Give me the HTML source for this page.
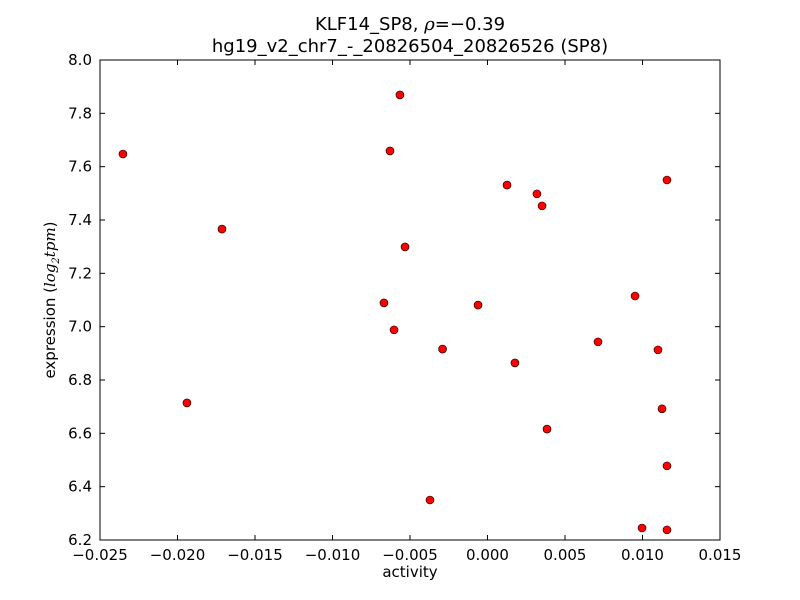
<!DOCTYPE html>
<html><head><meta charset="utf-8">
<style>body{margin:0;background:#fff}svg{display:block;font-family:"DejaVu Sans","Liberation Sans",sans-serif}</style>
</head><body>
<svg id="chart" width="800" height="600">
<rect width="800" height="600" fill="#fff"/>
<text x="410" y="30" text-anchor="middle" font-size="18">KLF14_SP8, <tspan font-family="DejaVu Serif" font-style="italic">ρ</tspan>=−0.39</text>
<text x="410" y="52" text-anchor="middle" font-size="18">hg19_v2_chr7_-_20826504_20826526 (SP8)</text>
<g id="ticks"></g>
<g id="points"></g>
<rect x="100" y="60" width="620" height="480" fill="none" stroke="#000" stroke-width="1"/>
<text x="410" y="577" text-anchor="middle" font-size="15">activity</text>
<text transform="translate(55,300) rotate(-90)" text-anchor="middle" font-size="15">expression (<tspan font-family="DejaVu Serif" font-style="italic">log</tspan><tspan font-size="10" dy="4" font-family="DejaVu Serif" font-style="italic">2</tspan><tspan dy="-4" font-family="DejaVu Serif" font-style="italic">tpm</tspan>)</text>
</svg>
<script>
const xVals=[-0.02352,-0.00565,-0.00629,-0.01713,-0.00532,-0.00668,-0.00603,-0.01939,-0.00290,-0.00061,0.00126,0.00319,0.00352,0.00177,0.00384,-0.00371,0.00713,0.00952,0.01158,0.01100,0.01126,0.01158,0.00997,0.01158];
const yVals=[7.6475,7.869,7.659,7.366,7.299,7.089,6.988,6.714,6.916,7.081,7.531,7.498,7.453,6.864,6.616,6.35,6.943,7.115,7.55,6.913,6.692,6.478,6.245,6.238];
const xTicks=[-0.025,-0.020,-0.015,-0.010,-0.005,0.000,0.005,0.010,0.015];
const xTickLabels=["−0.025","−0.020","−0.015","−0.010","−0.005","0.000","0.005","0.010","0.015"];
const yTicks=[6.2,6.4,6.6,6.8,7.0,7.2,7.4,7.6,7.8,8.0];
const yTickLabels=["6.2","6.4","6.6","6.8","7.0","7.2","7.4","7.6","7.8","8.0"];
const X0=100,X1=720,Y0=540,Y1=60,xmin=-0.025,xmax=0.015,ymin=6.2,ymax=8.0;
const sx=v=>X0+(v-xmin)/(xmax-xmin)*(X1-X0);
const sy=v=>Y0-(v-ymin)/(ymax-ymin)*(Y0-Y1);
const NS="http://www.w3.org/2000/svg";
const tg=document.getElementById('ticks'),pg=document.getElementById('points');
function mk(tag,a,parent){const e=document.createElementNS(NS,tag);for(const k in a)e.setAttribute(k,a[k]);parent.appendChild(e);return e;}
xTicks.forEach((t,i)=>{const x=sx(t);
 let l=mk('line',{x1:x,x2:x,y1:Y0,y2:Y0-5,stroke:'#000'},tg);
 
 
 let l2=mk('line',{x1:x,x2:x,y1:Y1,y2:Y1+5,stroke:'#000'},tg);
 
 
 let tx=mk('text',{x:x,y:Y0+20,'text-anchor':'middle','font-size':15},tg);tx.textContent=xTickLabels[i];
 
 
});
yTicks.forEach((t,i)=>{const y=sy(t);
 let l=mk('line',{x1:X0,x2:X0+5,y1:y,y2:y,stroke:'#000'},tg);
 
 
 let l2=mk('line',{x1:X1,x2:X1-5,y1:y,y2:y,stroke:'#000'},tg);
 
 
 let tx=mk('text',{x:X0-8,y:y+5,'text-anchor':'end','font-size':15},tg);tx.textContent=yTickLabels[i];
 
 
});
xVals.forEach((v,i)=>{
 let c=mk('circle',{cx:sx(v),cy:sy(yVals[i]),r:4,fill:'#ff0000',stroke:'#000','stroke-width':0.6},pg);
 
 
});
</script>
</body></html>
